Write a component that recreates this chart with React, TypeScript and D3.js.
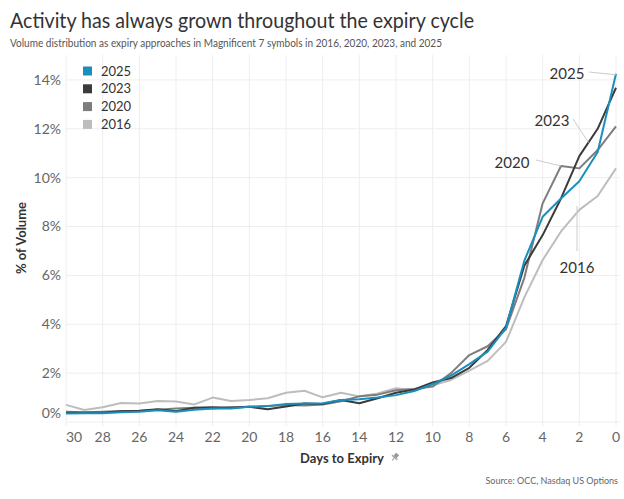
import React from 'react';
import * as d3 from 'd3';

// days to expiry, 30 down to 0
const days = d3.range(30, -1, -1);

// % of volume per day (index 0 = day 30)
const pct2016 = [0.7, 0.49, 0.6, 0.78, 0.76, 0.86, 0.84, 0.72, 1.0, 0.86, 0.9, 0.97, 1.2, 1.28, 1.01, 1.2, 1.04, 1.17, 1.38, 1.3, 1.5, 1.72, 2.1, 2.5, 3.28, 5.1, 6.63, 7.8, 8.68, 9.25, 10.38];
const pct2020 = [0.42, 0.4, 0.42, 0.45, 0.45, 0.5, 0.55, 0.58, 0.55, 0.6, 0.62, 0.65, 0.7, 0.68, 0.72, 0.85, 1.05, 1.12, 1.3, 1.35, 1.45, 2.0, 2.74, 3.1, 3.8, 5.9, 8.95, 10.48, 10.38, 11.13, 12.1];
const pct2023 = [0.38, 0.38, 0.38, 0.44, 0.46, 0.52, 0.44, 0.58, 0.6, 0.58, 0.62, 0.52, 0.63, 0.76, 0.74, 0.9, 0.77, 0.97, 1.2, 1.33, 1.62, 1.8, 2.22, 2.95, 3.92, 6.4, 7.65, 9.15, 10.88, 12.0, 13.68];
const pct2025 = [0.35, 0.36, 0.36, 0.4, 0.42, 0.48, 0.42, 0.5, 0.55, 0.55, 0.62, 0.65, 0.74, 0.76, 0.77, 0.9, 0.93, 1.0, 1.1, 1.27, 1.55, 1.9, 2.37, 2.88, 3.85, 6.6, 8.4, 9.15, 9.85, 11.05, 14.25];

const seriesNames = ['2016', '2020', '2023', '2025'];
const seriesColors = ['#bdbdbd', '#7d7d7d', '#3b3b3b', '#1a8fbd'];
const legendOrder = ['2025', '2023', '2020', '2016'];

const xTicks = [30, 28, 26, 24, 22, 20, 18, 16, 14, 12, 10, 8, 6, 4, 2, 0];
const yTicks = [0, 2, 4, 6, 8, 10, 12, 14];

const font = 'Lato, "Open Sans", sans-serif';

export default function App() {
  const x = d3.scaleLinear().domain([30, 0]).range([66, 616]);
  const y = d3.scaleLinear().domain([0, 15]).range([422, 55.5]);
  const plotTop = 55;
  const plotBottom = 426;

  const values = [pct2016, pct2020, pct2023, pct2025];
  const series = seriesNames.map((name, i) => ({
    name,
    color: seriesColors[i],
    points: days.map((d, j) => ({ day: d, v: values[i][j] })),
  }));

  const line = d3
    .line<{ day: number; v: number }>()
    .x(d => x(d.day))
    .y(d => y(d.v));

  const colorOf = (n: string) => seriesColors[seriesNames.indexOf(n)];

  return (
    <svg
      width={624}
      height={499}
      style={{ position: 'absolute', left: 0, top: 0, background: '#fff' }}
      fontFamily={font}
    >
      {/* title */}
      <text x={10} y={28} fontSize={22} fill="#333" textLength={464} lengthAdjust="spacingAndGlyphs">
        Activity has always grown throughout the expiry cycle
      </text>
      <text x={10} y={47} fontSize={11} fill="#555" textLength={432} lengthAdjust="spacingAndGlyphs">
        Volume distribution as expiry approaches in Magnificent 7 symbols in 2016, 2020, 2023, and 2025
      </text>

      {/* grid */}
      {yTicks.map(t => (
        <line key={'gy' + t} x1={66} x2={620} y1={y(t)} y2={y(t)} stroke="#eeeeee" strokeWidth={1} />
      ))}
      {xTicks.map(t => (
        <line key={'gx' + t} x1={x(t)} x2={x(t)} y1={plotTop} y2={plotBottom} stroke="#eeeeee" strokeWidth={1} />
      ))}

      {/* y axis */}
      {yTicks.map(t => (
        <text
          key={'yt' + t}
          x={61}
          y={t === 0 ? y(t) - 9 : y(t)}
          dy="0.35em"
          textAnchor="end"
          fontSize={14}
          fill="#666"
        >
          {t}%
        </text>
      ))}
      <text
        transform={`translate(26,238) rotate(-90)`}
        textAnchor="middle"
        fontSize={13}
        fontWeight="bold"
        fill="#333"
      >
        % of Volume
      </text>

      {/* x axis */}
      {xTicks.map(t => (
        <text
          key={'xt' + t}
          x={t === 30 ? x(t) : x(t)}
          y={442}
          textAnchor={t === 30 ? 'start' : 'middle'}
          fontSize={14}
          fill="#666"
        >
          {t}
        </text>
      ))}
      <text x={342} y={463} textAnchor="middle" fontSize={13} fontWeight="bold" fill="#333">
        Days to Expiry
      </text>
      <g transform="translate(395,457) rotate(40)" fill="#999">
        <rect x={-2} y={-4} width={4} height={4} />
        <rect x={-3.5} y={0} width={7} height={1.2} />
        <rect x={-0.5} y={1} width={1} height={3.5} />
      </g>
      <text x={618} y={484} textAnchor="end" fontSize={9} fill="#666">
        Source: OCC, Nasdaq US Options
      </text>

      {/* lines */}
      {series.map(s => (
        <path key={s.name} d={line(s.points) || ''} fill="none" stroke={s.color} strokeWidth={2} strokeLinejoin="round" />
      ))}

      {/* legend */}
      {legendOrder.map((n, i) => (
        <g key={'lg' + n} transform={`translate(83,${71 + i * 17.8})`}>
          <rect x={0} y={-4.5} width={9} height={9} fill={colorOf(n)} />
          <text x={18} dy="0.36em" fontSize={13} fill="#333">
            {n}
          </text>
        </g>
      ))}

      {/* direct labels */}
      <line x1={589} y1={72} x2={x(0)} y2={y(pct2025[30]) + 1} stroke="#ccc" strokeWidth={1} />
      <text x={567} y={74} dy="0.35em" textAnchor="middle" fontSize={15} fill="#333">2025</text>

      <line x1={573} y1={119} x2={x(1.5)} y2={y((pct2023[29] + pct2023[28]) / 2)} stroke="#ccc" strokeWidth={1} />
      <text x={552} y={121} dy="0.35em" textAnchor="middle" fontSize={15} fill="#333">2023</text>

      <line x1={536} y1={160} x2={x(3)} y2={y(pct2020[27])} stroke="#ccc" strokeWidth={1} />
      <text x={512} y={163} dy="0.35em" textAnchor="middle" fontSize={15} fill="#333">2020</text>

      <line x1={577} y1={y((pct2016[28] + pct2016[29]) / 2) + 3} x2={577} y2={251} stroke="#ccc" strokeWidth={1} />
      <text x={577} y={268} dy="0.35em" textAnchor="middle" fontSize={15} fill="#333">2016</text>
    </svg>
  );
}
